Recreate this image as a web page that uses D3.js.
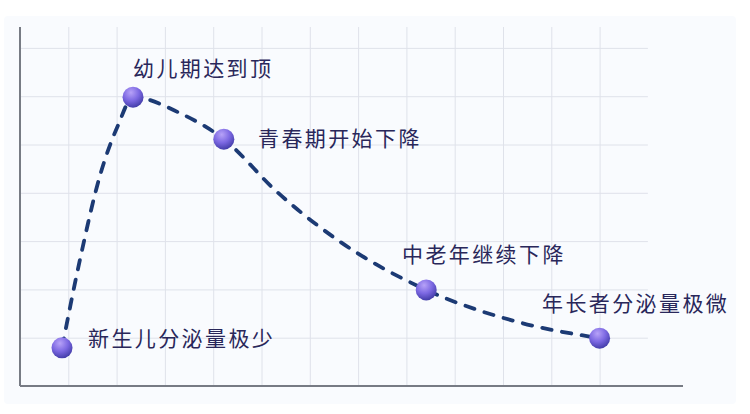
<!DOCTYPE html>
<html>
<head>
<meta charset="utf-8">
<script src="https://cdn.jsdelivr.net/npm/d3@7"></script>
<style>
  html, body { margin: 0; padding: 0; background: #ffffff; }
  svg { display: block; }
  .label { font-family: "Noto Sans CJK SC", sans-serif; font-size: 21px; font-weight: 400; fill: #29275a; letter-spacing: 2.4px; }
</style>
</head>
<body>
<svg></svg>
<script>
// 各阶段标记点（网格单位）
const stages = ['新生儿分泌量极少', '幼儿期达到顶', '青春期开始下降', '中老年继续下降', '年长者分泌量极微']
const xValues = [0.87, 2.34, 4.22, 8.41, 12.0]
const yValues = [0.79, 5.98, 5.11, 1.99, 0.99]

// 虚线曲线沿途读取的点
const curveX = [0.87, 1.24, 1.66, 2.03, 2.34, 3.31, 4.22, 5.32, 6.58, 8.41, 10.29, 12.0]
const curveY = [0.79, 2.61, 4.37, 5.40, 5.98, 5.65, 5.11, 4.02, 3.02, 1.99, 1.33, 0.99]

const width = 750
const height = 414
const origin = {x: 20, y: 386}
const cell = 48.3

const svg = d3.select('svg').attr('width', width).attr('height', height)

// 比例尺
const x = d3.scaleLinear().domain([0, 13]).range([origin.x, origin.x + cell * 13])
const y = d3.scaleLinear().domain([0, 7]).range([origin.y, origin.y - cell * 7])

// 渐变
const defs = svg.append('defs')
const grad = defs.append('radialGradient').attr('id', 'dot').attr('cx', '40%').attr('cy', '28%').attr('r', '78%')
grad.append('stop').attr('offset', '0%').attr('stop-color', '#b7a2f8')
grad.append('stop').attr('offset', '50%').attr('stop-color', '#7c68e2')
grad.append('stop').attr('offset', '100%').attr('stop-color', '#3a36a0')

// 背景面板
svg.append('rect').attr('x', 4).attr('y', 16).attr('width', 732).attr('height', 388)
  .attr('fill', '#f9fbfe').attr('rx', 4)

// 网格
const g = svg.append('g')
g.append('g')
  .attr('transform', `translate(0, ${y(0)})`)
  .call(d3.axisBottom(x).tickValues(d3.range(1, 13)).tickSize(-(y(0) - 27)).tickFormat(''))
  .call(s => s.select('.domain').remove())
  .selectAll('line').attr('stroke', '#dfe2ea').attr('stroke-width', 1)
g.append('g')
  .attr('transform', `translate(${x(0)}, 0)`)
  .call(d3.axisLeft(y).tickValues(d3.range(1, 8)).tickSize(-(x(13) - x(0))).tickFormat(''))
  .call(s => s.select('.domain').remove())
  .selectAll('line').attr('stroke', '#dfe2ea').attr('stroke-width', 1)

// 坐标轴
svg.append('line').attr('x1', x(0)).attr('x2', x(0)).attr('y1', 27).attr('y2', y(0))
  .attr('stroke', '#777b84').attr('stroke-width', 2)
svg.append('line').attr('x1', x(0)).attr('x2', 683).attr('y1', y(0)).attr('y2', y(0))
  .attr('stroke', '#777b84').attr('stroke-width', 2)

// 曲线
const curvePts = curveX.map((d, i) => [d, curveY[i]])
const line = d3.line().x(d => x(d[0])).y(d => y(d[1])).curve(d3.curveMonotoneX)
svg.append('path').attr('d', line(curvePts))
  .attr('fill', 'none').attr('stroke', '#1c3a74').attr('stroke-width', 3.8)
  .attr('stroke-dasharray', '9.5,10.5').attr('stroke-linecap', 'round')

// 点
const pts = xValues.map((d, i) => [d, yValues[i]])
svg.selectAll('.dot').data(pts).enter().append('circle')
  .attr('cx', d => x(d[0])).attr('cy', d => y(d[1])).attr('r', 10.5)
  .attr('fill', 'url(#dot)')

// 标签
const labelPos = [[88, 346], [133, 76], [258, 146], [402, 262], [542, 311]]
svg.selectAll('.label').data(stages).enter().append('text')
  .attr('class', 'label')
  .attr('x', (d, i) => labelPos[i][0]).attr('y', (d, i) => labelPos[i][1])
  .text(d => d)
</script>
</body>
</html>
